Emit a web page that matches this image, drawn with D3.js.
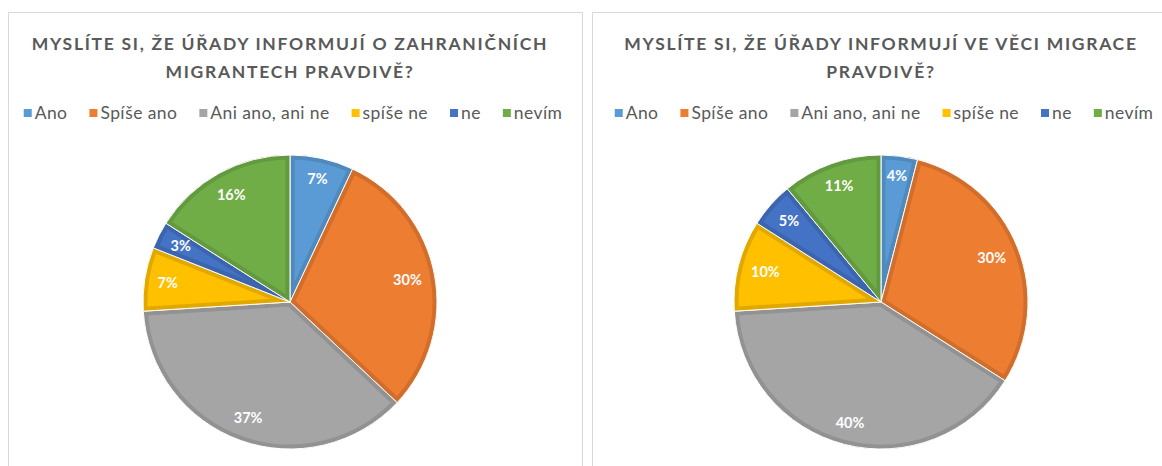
<!DOCTYPE html>
<html><head><meta charset="utf-8">
<script src="https://cdn.jsdelivr.net/npm/d3@7"></script>
<style>
html,body{margin:0;padding:0;background:#fff;}
svg{display:block;}
text{font-family:Lato,"Open Sans",sans-serif;}
</style></head>
<body>
<svg id="c" width="1162" height="466"></svg>
<script>
const categories = ["Ano", "Spíše ano", "Ani ano, ani ne", "spíše ne", "ne", "nevím"];
const values1 = [7, 30, 37, 7, 3, 16];
const values2 = [4, 30, 40, 10, 5, 11];
const title1 = ["MYSLÍTE SI, ŽE ÚŘADY INFORMUJÍ O ZAHRANIČNÍCH", "MIGRANTECH PRAVDIVĚ?"];
const title2 = ["MYSLÍTE SI, ŽE ÚŘADY INFORMUJÍ VE VĚCI MIGRACE", "PRAVDIVĚ?"];
const colors = ["#5B9BD5", "#ED7D31", "#A5A5A5", "#FFC000", "#4472C4", "#70AD47"];

const svg = d3.select("#c");
const color = d3.scaleOrdinal().domain(categories).range(colors);

const panels = [
  {x: 8, y: 12, w: 574, h: 470, cx: 290, values: values1, title: title1},
  {x: 592, y: 12, w: 600, h: 470, cx: 881, values: values2, title: title2}
];

const R = 147, cy = 302;
const pie = d3.pie().sort(null).value(d => d.v);
const arc = d3.arc().innerRadius(0).outerRadius(R);

panels.forEach((p, pi) => {
  const g = svg.append("g");
  g.append("rect").attr("x", p.x + 0.5).attr("y", p.y + 0.5).attr("width", p.w).attr("height", p.h)
    .attr("fill", "#fff").attr("stroke", "#D9D9D9").attr("stroke-width", 1);

  // title
  p.title.forEach((t, i) => {
    g.append("text").attr("x", p.cx).attr("y", 50 + i * 28)
      .attr("text-anchor", "middle").attr("font-size", 17.5).attr("font-weight", 700)
      .attr("letter-spacing", "1.7px").attr("fill", "#595959").text(t);
  });

  // legend
  const gap = 22;
  const lg = g.append("g");
  const items = lg.selectAll("g").data(categories).join("g");
  items.append("rect").attr("width", 8).attr("height", 8).attr("y", 109)
    .attr("fill", d => color(d));
  items.append("text").attr("x", 11).attr("y", 119).attr("font-size", 17.5)
    .attr("letter-spacing", "0.4px").attr("fill", "#595959").text(d => d);
  let xx = 0;
  items.each(function() {
    const w = d3.select(this).select("text").node().getComputedTextLength();
    d3.select(this).attr("transform", `translate(${xx},0)`);
    xx += 11 + w + gap;
  });
  const total = xx - gap;
  lg.attr("transform", `translate(${p.cx + 3 - total / 2},0)`);

  // pie
  const data = categories.map((c, i) => ({c, v: p.values[i]}));
  const arcs = pie(data);
  const pg = g.append("g").attr("transform", `translate(${p.cx},${cy})`);
  const defs = svg.append("defs");
  arcs.forEach((a, i) => {
    const id = `clip${pi}_${i}`;
    defs.append("clipPath").attr("id", id).append("path").attr("d", arc(a));
    const base = color(a.data.c);
    pg.append("path").attr("d", arc(a)).attr("fill", base);
    pg.append("path").attr("d", arc(a)).attr("fill", "none")
      .attr("stroke", d3.color(base).darker(0.35)).attr("stroke-width", 9)
      .attr("stroke-linejoin", "miter").attr("clip-path", `url(#${id})`);
    pg.append("path").attr("d", arc(a)).attr("fill", "none")
      .attr("stroke", "#fff").attr("stroke-width", 1);
  });
  arcs.forEach(a => {
    const t = pg.append("text").attr("font-size", 14.5).attr("font-weight", 700)
      .attr("fill", "#fff").attr("text-anchor", "middle")
      .text(a.data.v + "%");
    const w = t.node().getComputedTextLength(), h = 14;
    const ang = (a.startAngle + a.endAngle) / 2;
    const s = Math.sin(ang), c = -Math.cos(ang);
    const r = R - 12 - (w / 2 * Math.abs(s) + h / 2 * Math.abs(c));
    t.attr("x", r * s).attr("y", r * c + 5);
  });
});
</script>
</body></html>
